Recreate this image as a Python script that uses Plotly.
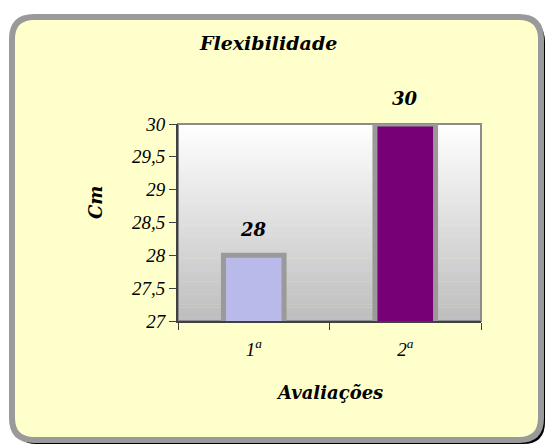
import plotly.graph_objects as go

# Flexibility test results (cm) for two assessments
categories = ["1<sup>a</sup>", "2<sup>a</sup>"]
values = [28, 30]
bar_colors = ["#b9b9ea", "#770077"]
y_ticks = [27, 27.5, 28, 28.5, 29, 29.5, 30]

W, H = 549, 446
L, R, T, B = 178, 481, 124, 321  # plot area in pixels


def px(x):
    return (x - L) / (R - L)


def py(y):
    return (B - y) / (B - T)


def rounded_rect(x0, y0, x1, y1, r):
    return (
        f"M {px(x0 + r)} {py(y0)} L {px(x1 - r)} {py(y0)} "
        f"Q {px(x1)} {py(y0)} {px(x1)} {py(y0 + r)} "
        f"L {px(x1)} {py(y1 - r)} Q {px(x1)} {py(y1)} {px(x1 - r)} {py(y1)} "
        f"L {px(x0 + r)} {py(y1)} Q {px(x0)} {py(y1)} {px(x0)} {py(y1 - r)} "
        f"L {px(x0)} {py(y0 + r)} Q {px(x0)} {py(y0)} {px(x0 + r)} {py(y0)} Z"
    )


serif_bi = dict(family="'DejaVu Serif', serif", size=18, color="#000000",
                weight="bold", style="italic")
title_font = dict(serif_bi, size=19)
tick_font = dict(family="'Liberation Serif', 'Times New Roman', serif",
                 size=19, color="#000000", style="italic")

fig = go.Figure()
fig.add_trace(go.Bar(
    x=categories, y=values,
    marker=dict(color=bar_colors, line=dict(color="#9a9a9a", width=5)),
    width=0.40,
    hoverinfo="skip",
))

shapes = []
# chart frame with drop shadow
shapes.append(dict(type="path", xref="paper", yref="paper", layer="below",
                   path=rounded_rect(15, 20, 545, 444, 22),
                   fillcolor="#000000", line=dict(width=0)))
shapes.append(dict(type="path", xref="paper", yref="paper", layer="below",
                   path=rounded_rect(12, 17, 541, 440, 22),
                   fillcolor="#FFFFCC", line=dict(color="#9a9a9a", width=6)))
# vertical grey gradient behind the bars
n = 60
for i in range(n):
    t = i / (n - 1)
    g = int(round(255 - (255 - 190) * t))
    shapes.append(dict(type="rect", xref="paper", yref="paper", layer="below",
                       x0=0, x1=1, y0=1 - (i + 1) / n, y1=1 - i / n + 0.002,
                       fillcolor=f"rgb({g},{g},{g})", line=dict(width=0)))
shapes.append(dict(type="rect", xref="paper", yref="paper", layer="below",
                   x0=0, x1=1, y0=0, y1=1, fillcolor="rgba(0,0,0,0)",
                   line=dict(color="#8c8c8c", width=2)))

annotations = [
    dict(text="Flexibilidade", x=px(268), y=py(43), xref="paper", yref="paper",
         showarrow=False, font=title_font, xanchor="center", yanchor="middle"),
    dict(text="Cm", x=px(95), y=py(203), xref="paper", yref="paper",
         showarrow=False, font=serif_bi, textangle=-90,
         xanchor="center", yanchor="middle"),
    dict(text="Avaliações", x=px(329), y=py(392), xref="paper", yref="paper",
         showarrow=False, font=serif_bi, xanchor="center", yanchor="middle"),
]
for c, v in zip(categories, values):
    annotations.append(dict(text=f"{v:g}", x=c, y=v, xref="x", yref="y",
                            showarrow=False, font=serif_bi, yshift=26,
                            xanchor="center", yanchor="middle"))

fig.update_layout(
    width=W, height=H,
    margin=dict(l=L, r=W - R, t=T, b=H - B, pad=0),
    paper_bgcolor="#FFFFFF",
    plot_bgcolor="rgba(0,0,0,0)",
    separators=",.",
    showlegend=False,
    shapes=shapes,
    annotations=annotations,
    bargap=0.6,
)
fig.update_xaxes(
    type="category", showgrid=False, showline=True, linecolor="#404040",
    linewidth=2, ticks="outside", tickson="boundaries", ticklen=7,
    tickcolor="#404040", tickfont=tick_font, ticklabelstandoff=10,
)
fig.update_yaxes(
    range=[27, 30], tickvals=y_ticks, showgrid=False, zeroline=False,
    showline=True, linecolor="#404040", linewidth=2, ticks="outside",
    ticklen=7, tickcolor="#404040", tickfont=tick_font,
)

fig.write_html("out.html")
